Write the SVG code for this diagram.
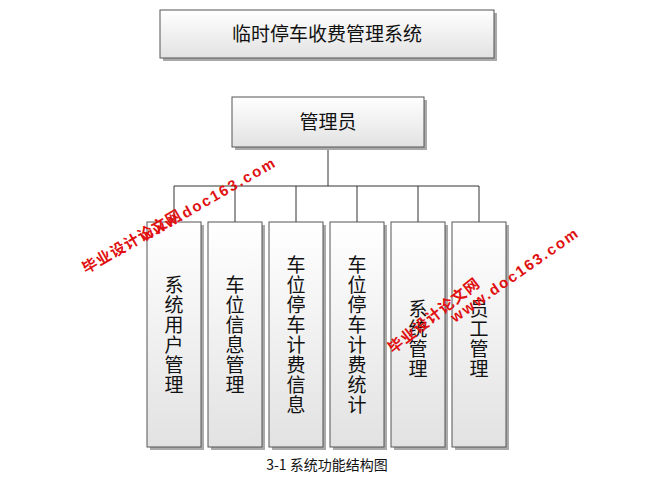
<svg xmlns="http://www.w3.org/2000/svg" width="670" height="482" viewBox="0 0 670 482">
<defs>
<linearGradient id="g" x1="0" y1="0" x2="0" y2="1"><stop offset="0" stop-color="#ffffff"/><stop offset="1" stop-color="#e2e2e2"/></linearGradient>
<style>
.b{fill:url(#g);stroke:#555;stroke-width:1}
.s{fill:#aaa}
.t{font-family:"Noto Sans CJK SC",sans-serif;font-size:19px;fill:#111;text-anchor:middle}
.w{font-family:"Liberation Sans","Noto Sans CJK SC",sans-serif;font-weight:bold;fill:#e01010;font-size:15px}
</style>
</defs>
<rect width="670" height="482" fill="#fff"/>
<g id="connectors" stroke="#333" fill="none">
<path d="M328 147V186M174 186H479M174 186V222M235 186V222M296 186V222M357 186V222M418 186V222M479 186V222"/>
</g>
<g id="root"><rect class="s" x="163" y="13" width="334" height="48"/><rect class="b" x="160" y="10" width="334" height="48"/><text class="t" x="327" y="41">临时停车收费管理系统</text></g>
<g id="admin"><rect class="s" x="235" y="100" width="192" height="50"/><rect class="b" x="232" y="97" width="192" height="50"/><text class="t" x="328" y="129">管理员</text></g>
<g id="n1"><rect class="s" x="150" y="225" width="54" height="225"/><rect class="b" x="147" y="222" width="54" height="225"/><text class="t"><tspan x="174" y="292">系</tspan><tspan x="174" dy="20">统</tspan><tspan x="174" dy="20">用</tspan><tspan x="174" dy="20">户</tspan><tspan x="174" dy="20">管</tspan><tspan x="174" dy="20">理</tspan></text></g>
<g id="n2"><rect class="s" x="211" y="225" width="54" height="225"/><rect class="b" x="208" y="222" width="54" height="225"/><text class="t"><tspan x="235" y="292">车</tspan><tspan x="235" dy="20">位</tspan><tspan x="235" dy="20">信</tspan><tspan x="235" dy="20">息</tspan><tspan x="235" dy="20">管</tspan><tspan x="235" dy="20">理</tspan></text></g>
<g id="n3"><rect class="s" x="272" y="225" width="54" height="225"/><rect class="b" x="269" y="222" width="54" height="225"/><text class="t"><tspan x="296" y="272">车</tspan><tspan x="296" dy="20">位</tspan><tspan x="296" dy="20">停</tspan><tspan x="296" dy="20">车</tspan><tspan x="296" dy="20">计</tspan><tspan x="296" dy="20">费</tspan><tspan x="296" dy="20">信</tspan><tspan x="296" dy="20">息</tspan></text></g>
<g id="n4"><rect class="s" x="333" y="225" width="54" height="225"/><rect class="b" x="330" y="222" width="54" height="225"/><text class="t"><tspan x="357" y="272">车</tspan><tspan x="357" dy="20">位</tspan><tspan x="357" dy="20">停</tspan><tspan x="357" dy="20">车</tspan><tspan x="357" dy="20">计</tspan><tspan x="357" dy="20">费</tspan><tspan x="357" dy="20">统</tspan><tspan x="357" dy="20">计</tspan></text></g>
<g id="n5"><rect class="s" x="394" y="225" width="54" height="225"/><rect class="b" x="391" y="222" width="54" height="225"/><text class="t"><tspan x="418" y="316">系</tspan><tspan x="418" dy="20">统</tspan><tspan x="418" dy="20">管</tspan><tspan x="418" dy="20">理</tspan></text></g>
<g id="n6"><rect class="s" x="455" y="225" width="54" height="225"/><rect class="b" x="452" y="222" width="54" height="225"/><text class="t"><tspan x="479" y="316">员</tspan><tspan x="479" dy="20">工</tspan><tspan x="479" dy="20">管</tspan><tspan x="479" dy="20">理</tspan></text></g>
<text x="327" y="470" style="font-family:'Noto Sans CJK SC',sans-serif;font-size:14px;fill:#111;text-anchor:middle">3-1 系统功能结构图</text>
<g id="watermarks">
<text class="w" transform="translate(86,274) rotate(-30)" letter-spacing="1">毕业设计论文网</text>
<text class="w" transform="translate(145,242) rotate(-30)" letter-spacing="2">www.doc163.com</text>
<text class="w" transform="translate(393,354) rotate(-38)" letter-spacing="1">毕业设计论文网</text>
<text class="w" transform="translate(455,323) rotate(-35)" letter-spacing="2">www.doc163.com</text>
</g>
</svg>
